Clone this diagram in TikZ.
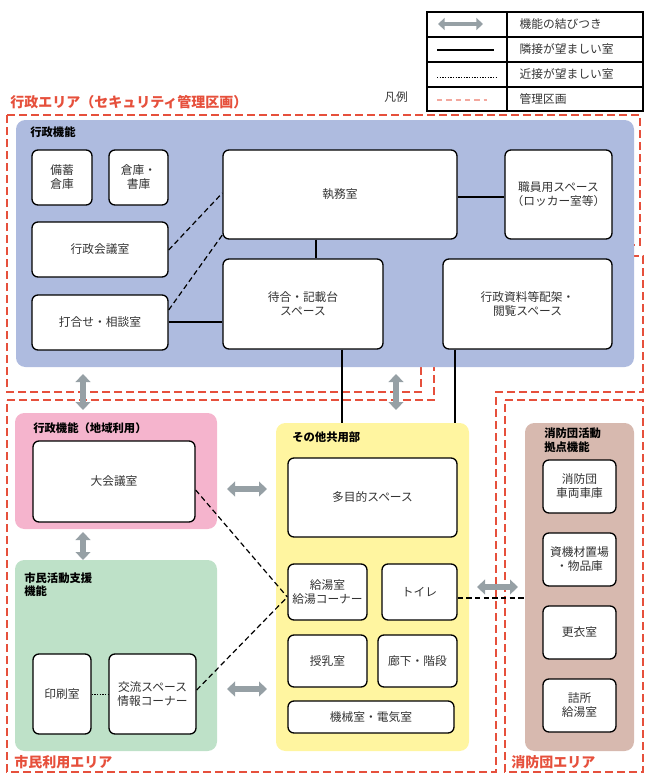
\documentclass[tikz,border=0pt]{standalone}
\usepackage{fontspec}
\setmainfont{Noto Sans CJK JP}
\usetikzlibrary{arrows.meta}
\definecolor{ared}{RGB}{230,80,60}
\definecolor{blu}{RGB}{174,187,223}
\definecolor{pnk}{RGB}{245,180,205}
\definecolor{grn}{RGB}{190,225,200}
\definecolor{ylw}{RGB}{255,245,160}
\definecolor{brn}{RGB}{215,185,175}
\definecolor{garc}{RGB}{150,160,165}
\begin{document}
\begin{tikzpicture}[x=0.75pt,y=-0.75pt,
 box/.style={draw=black,line width=1pt,fill=white,rounded corners=4.5pt},
 area/.style={draw=ared,line width=1pt,dash pattern=on 6pt off 3pt},
 zone/.style={rounded corners=7pt},
 txt/.style={font=\fontsize{8.8}{10.5}\selectfont,align=center,text=black!80},
 ttl/.style={font=\bfseries\fontsize{8.5}{10}\selectfont,anchor=north west,align=left,inner sep=0},
 rtl/.style={font=\bfseries\fontsize{10.5}{12}\selectfont,text=ared,anchor=west,inner sep=0},
 garr/.style={draw=garc,line width=4.5pt,{Triangle[width=11pt,length=6pt]}-{Triangle[width=11pt,length=6pt]}},
 sl/.style={line width=0.9pt},
 dl/.style={line width=0.9pt,dash pattern=on 4pt off 2.5pt}]
\useasboundingbox (0,0) rectangle (647,783);
% legend
\draw[line width=0.8pt] (427,12) rectangle (643,111);
\foreach \y in {37,62,87} \draw[line width=0.8pt] (427,\y)--(643,\y);
\draw[line width=0.8pt] (507,12)--(507,111);
\coordinate (la1) at (438,24); \coordinate (la2) at (483,24);
\draw[draw=garc,line width=3.5pt,{Triangle[width=9pt,length=5pt]}-{Triangle[width=9pt,length=5pt]}] (la1)--(la2);
\coordinate (lb1) at (437,50); \coordinate (lb2) at (494,50);
\draw[sl] (lb1)--(lb2);
\coordinate (lc1) at (437,77); \coordinate (lc2) at (497,77);
\draw[line width=0.5pt,dash pattern=on 1pt off 1pt] (lc1)--(lc2);
\coordinate (ld1) at (437,100); \coordinate (ld2) at (487,100);
\draw[ared!50,line width=0.8pt,dash pattern=on 4pt off 3pt] (ld1)--(ld2);
\node[txt,anchor=west] (l1) at (515,24) {機能の結びつき};
\node[txt,anchor=west] (l2) at (515,49) {隣接が望ましい室};
\node[txt,anchor=west] (l3) at (515,74) {近接が望ましい室};
\node[txt,anchor=west] (l4) at (515,99) {管理区画};
\node[txt] (hanrei) at (396,97) {凡例};
% areas
\draw[area] (7,115)--(640,115)--(640,245)--(421,245)--(421,392)--(7,392)--cycle;
\draw[area] (7,400)--(434,400)--(434,256)--(643,256)--(643,392)--(496,392)--(496,772)--(7,772)--cycle;
\draw[area] (505,400)--(643,400)--(643,772)--(505,772)--cycle;
\node[rtl] (t1) at (10,102) {行政エリア（セキュリティ管理区画）};
\node[rtl] (t2) at (14,762) {市民利用エリア};
\node[rtl] (t3) at (511,762) {消防団エリア};
% zones
\fill[blu,zone] (16,120) rectangle (634,367);
\fill[pnk,zone] (15,413) rectangle (217,529);
\fill[grn,zone] (15,560) rectangle (217,751);
\fill[ylw,zone] (276,423) rectangle (469,751);
\fill[brn,zone] (525,423) rectangle (634,751);
\node[ttl] (z1) at (30,126) {行政機能};
\node[ttl] (z2) at (33,422) {行政機能（地域利用）};
\node[ttl] (z3) at (24,572) {市民活動支援\\機能};
\node[ttl] (z4) at (292,432) {その他共用部};
\node[ttl] (z5) at (544,428) {消防団活動\\拠点機能};
% boxes
\newcommand{\bx}[6]{\node[box,txt,minimum width={(#4-#2)*0.75pt},minimum height={(#5-#3)*0.75pt},inner sep=1pt] (#1) at ({(#2+#4)/2},{(#3+#5)/2}) {#6};}
\bx{bichiku}{32}{150}{92}{205}{備蓄\\倉庫}
\bx{souko}{109}{150}{168}{205}{倉庫・\\書庫}
\bx{shitsumu}{223}{150}{457}{239}{執務室}
\bx{shokuin}{505}{150}{612}{239}{職員用スペース\\（ロッカー室等）}
\bx{kaigi}{32}{222}{168}{277}{行政会議室}
\bx{uchiawase}{32}{295}{168}{350}{打合せ・相談室}
\bx{machiai}{223}{259}{383}{349}{待合・記載台\\スペース}
\bx{shiryo}{443}{259}{612}{349}{行政資料等配架・\\閲覧スペース}
\bx{daikaigi}{33}{441}{195}{522}{大会議室}
\bx{insatsu}{33}{654}{91}{734}{印刷室}
\bx{koryu}{109}{654}{196}{734}{交流スペース\\情報コーナー}
\bx{tamokuteki}{288}{458}{457}{537}{多目的スペース}
\bx{kyuto}{288}{564}{367}{620}{給湯室\\給湯コーナー}
\bx{toilet}{382}{564}{457}{620}{トイレ}
\bx{junyu}{288}{635}{367}{687}{授乳室}
\bx{roka}{378}{635}{457}{687}{廊下・階段}
\bx{kikai}{288}{701}{454}{733}{機械室・電気室}
\bx{shako}{543}{460}{616}{513}{消防団\\車両車庫}
\bx{shikizai}{543}{533}{616}{586}{資機材置場\\・物品庫}
\bx{koui}{543}{606}{616}{659}{更衣室}
\bx{tsumesho}{543}{679}{616}{732}{詰所\\給湯室}
% connectors
\draw[sl] (shitsumu.south -| 316,0)--(machiai.north -| 316,0);
\draw[sl] (shitsumu.east |- 0,197)--(shokuin.west |- 0,197);
\draw[sl] (uchiawase.east |- 0,322)--(machiai.west |- 0,322);
\draw[dl] (kaigi.east |- 0,250)--(shitsumu.west |- 0,193);
\draw[dl] (uchiawase.east |- 0,310)--(shitsumu.west |- 0,235);
\coordinate (yt1) at (342,423); \coordinate (yt2) at (455,423);
\draw[sl] (machiai.south -| 342,0)--(yt1);
\draw[sl] (shiryo.south -| 455,0)--(yt2);
\draw[dl] (daikaigi.east |- 0,490)--(kyuto.west |- 0,597);
\draw[dl] (koryu.east |- 0,690)--(kyuto.west |- 0,597);
\coordinate (bz) at (525,598);
\draw[dl] (toilet.east |- 0,598)--(bz);
\draw[line width=0.5pt,dash pattern=on 1pt off 1pt] (insatsu.east |- 0,694)--(koryu.west |- 0,694);
% grey arrows
\coordinate (a1) at (83,374); \coordinate (a2) at (83,410);
\coordinate (b1) at (396,374); \coordinate (b2) at (396,410);
\coordinate (c1) at (83,532); \coordinate (c2) at (83,560);
\coordinate (d1) at (227,489); \coordinate (d2) at (267,489);
\coordinate (e1) at (227,689); \coordinate (e2) at (267,689);
\coordinate (f1) at (477,587); \coordinate (f2) at (518,587);
\foreach \p/\q in {a1/a2,b1/b2,c1/c2,d1/d2,e1/e2,f1/f2} \draw[garr] (\p)--(\q);
\end{tikzpicture}
\end{document}
